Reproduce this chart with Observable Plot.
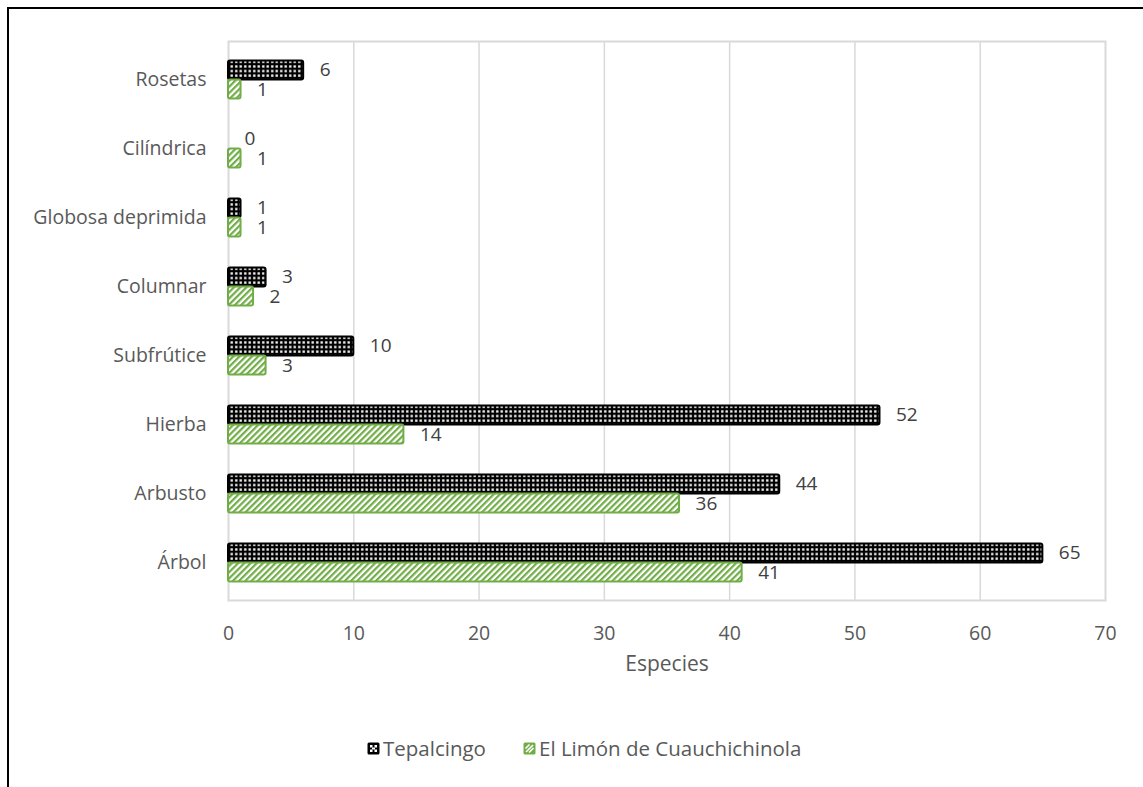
<!DOCTYPE html>
<html>
<head>
<meta charset="utf-8">
<script src="https://cdn.jsdelivr.net/npm/d3@7"></script>
<script src="https://cdn.jsdelivr.net/npm/@observablehq/plot@0.6"></script>
<style>
  html, body { margin: 0; padding: 0; background: #fff; }
  #wrap { position: relative; width: 1143px; height: 787px; overflow: hidden; font-family: "Open Sans", sans-serif; }
  #border { position: absolute; left: 7px; top: 7px; right: -4px; bottom: -4px; border-top: 2px solid #000; border-left: 2px solid #000; pointer-events: none; }
  #chart { position: absolute; left: 0; top: 0; }
  #legend { position: absolute; left: 0; top: 730px; width: 1143px; height: 36px; color: #595959; font-size: 20.5px; }
  .item { position: absolute; top: 0; height: 36px; display: flex; align-items: center; }
  .item svg { margin-right: 3px; }
</style>
</head>
<body>
<div id="wrap">
  <div id="chart"></div>
  <div id="legend"></div>
  <div id="border"></div>
</div>
<script>
// Growth forms and number of species per locality
const categories = ["Rosetas", "Cilíndrica", "Globosa deprimida", "Columnar", "Subfrútice", "Hierba", "Arbusto", "Árbol"];
const tepalcingo = [6, 0, 1, 3, 10, 52, 44, 65];
const limon = [1, 1, 1, 2, 3, 14, 36, 41];
const seriesNames = ["Tepalcingo", "El Limón de Cuauchichinola"];
const xTicks = [0, 10, 20, 30, 40, 50, 60, 70];
const xLabel = "Especies";

const green = "#70AD47";

const rowsT = categories.map((c, i) => ({category: c, value: tepalcingo[i], series: seriesNames[0]}));
const rowsL = categories.map((c, i) => ({category: c, value: limon[i], series: seriesNames[1]}));

const chart = Plot.plot({
  width: 1143,
  height: 730,
  marginLeft: 228,
  marginRight: 38,
  marginTop: 41,
  marginBottom: 130,
  style: {fontFamily: "Open Sans, sans-serif", fontSize: "19px", color: "#595959", background: "transparent"},
  x: {domain: [0, 70]},
  y: {domain: categories, paddingInner: 0.73, paddingOuter: 0.365},
  marks: [
    Plot.gridX(xTicks.filter(d => d > 0 && d < 70), {stroke: "#d9d9d9", strokeOpacity: 1, strokeWidth: 1.5}),
    Plot.frame({stroke: "#d9d9d9", strokeWidth: 2}),
    Plot.axisX(xTicks, {tickSize: 0, tickPadding: 26, fontSize: 19.5, label: null}),
    Plot.axisY({tickSize: 0, tickPadding: 22, fontSize: 19.5, label: null}),
    Plot.text([xLabel], {frameAnchor: "bottom", dy: 70, fontSize: 21, fill: "#595959"}),
    // Tepalcingo bars (upper) and El Limón bars (lower)
    Plot.barX(rowsT.filter(d => d.value > 0), {x: "value", y: "category", dy: -9.5, fill: "url(#dots)", stroke: "#000", strokeWidth: 2, rx: 2}),
    Plot.barX(rowsL.filter(d => d.value > 0), {x: "value", y: "category", dy: 9.5, fill: "url(#hatch)", stroke: green, strokeWidth: 2, rx: 2}),
    Plot.text(rowsT, {x: "value", y: "category", text: d => String(d.value), dy: -10, dx: 16, textAnchor: "start", fontSize: 19, fill: "#404040"}),
    Plot.text(rowsL, {x: "value", y: "category", text: d => String(d.value), dy: 10, dx: 16, textAnchor: "start", fontSize: 19, fill: "#404040"})
  ]
});

// Fill patterns for the two series
const defs = d3.select(chart).insert("defs", ":first-child");
const dots = defs.append("pattern").attr("id", "dots").attr("patternUnits", "userSpaceOnUse")
  .attr("width", 4.5).attr("height", 4.6);
dots.append("rect").attr("width", 4.5).attr("height", 4.6).attr("fill", "#000");
dots.append("rect").attr("x", 1.1).attr("y", 1.2).attr("width", 2.3).attr("height", 2.3).attr("fill", "#fff");
const hatch = defs.append("pattern").attr("id", "hatch").attr("patternUnits", "userSpaceOnUse")
  .attr("width", 4.4).attr("height", 4.4).attr("patternTransform", "rotate(45)");
hatch.append("rect").attr("width", 4.4).attr("height", 4.4).attr("fill", "#fff");
hatch.append("rect").attr("width", 2.2).attr("height", 4.4).attr("fill", green);

document.getElementById("chart").appendChild(chart);

// Legend below the chart
const legend = document.getElementById("legend");
const swatches = [
  {name: seriesNames[0], left: 367, svg: `<svg width="13" height="13"><rect x="0.5" y="0.5" width="12" height="12" rx="1.5" fill="#000"/><rect x="3" y="3" width="2.5" height="2.5" fill="#fff"/><rect x="7.5" y="3" width="2.5" height="2.5" fill="#fff"/><rect x="3" y="7.5" width="2.5" height="2.5" fill="#fff"/><rect x="7.5" y="7.5" width="2.5" height="2.5" fill="#fff"/><rect x="5" y="5.5" width="3" height="2" fill="#fff"/></svg>`},
  {name: seriesNames[1], left: 523, svg: `<svg width="13" height="13"><rect x="0.5" y="0.5" width="12" height="12" rx="1.5" fill="${green}"/><path d="M3 10 L10 3 M6 10.5 L10.5 6 M2.5 6.5 L6.5 2.5" stroke="#fff" stroke-width="1.6"/></svg>`}
];
for (const s of swatches) {
  const el = document.createElement("div");
  el.className = "item";
  el.style.left = s.left + "px";
  el.innerHTML = s.svg + `<span>${s.name}</span>`;
  legend.appendChild(el);
}
</script>
</body>
</html>
